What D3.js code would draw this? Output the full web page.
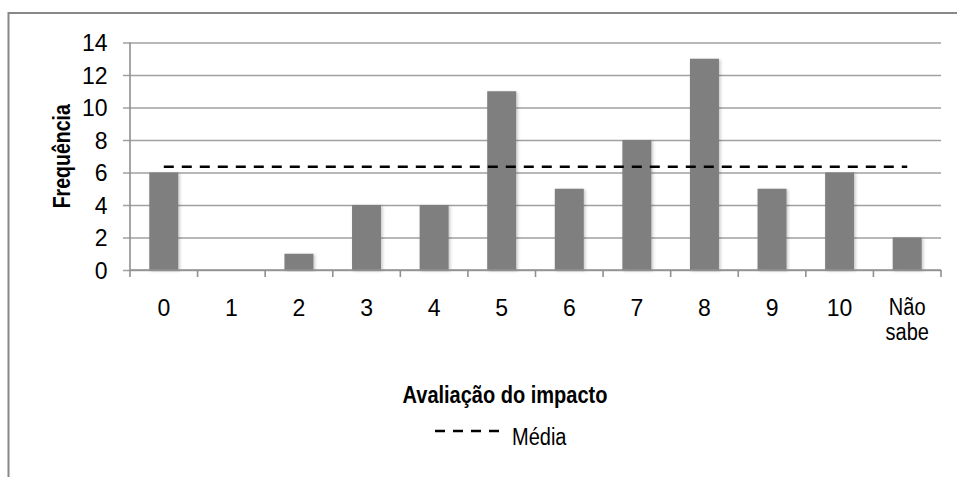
<!DOCTYPE html>
<html>
<head>
<meta charset="utf-8">
<script src="https://cdn.jsdelivr.net/npm/d3@7"></script>
<style>
  html, body { margin: 0; padding: 0; background: #fff; }
  svg { display: block; }
  text { font-family: "Liberation Sans", Arial, sans-serif; fill: #000; }
</style>
</head>
<body>
<svg id="chart" width="957" height="477"></svg>
<script>
// Avaliação do impacto: frequência de cada nota
const categories = ["0", "1", "2", "3", "4", "5", "6", "7", "8", "9", "10", "Não sabe"];
const frequencies = [6, 0, 1, 4, 4, 11, 5, 8, 13, 5, 6, 2];
const meanValue = 6.35;
const yTicks = [0, 2, 4, 6, 8, 10, 12, 14];

const svg = d3.select("#chart");
const W = 957, H = 477;
const plot = { left: 130, right: 941, top: 42.5, bottom: 270 };
const WORD_SQUEEZE = 0.87; // narrow lettering for word labels

// Horizontally condense a text element about an anchor x
function squeeze(sel, cx, k) {
  sel.attr("transform", `translate(${cx},0) scale(${k},1) translate(${-cx},0)`);
}

// Outer frame (extends past the page on the right and bottom)
svg.append("path")
  .attr("d", `M8.5,${H + 5} V13 H${W + 5}`)
  .attr("fill", "none")
  .attr("stroke", "#888")
  .attr("stroke-width", 2);

const x = d3.scaleBand().domain(categories).range([plot.left, plot.right]).paddingInner(0).paddingOuter(0);
const y = d3.scaleLinear().domain([0, 14]).range([plot.bottom, plot.top]);

const defs = svg.append("defs");
const shadow = defs.append("filter").attr("id", "barShadow")
  .attr("x", "-30%").attr("y", "-10%").attr("width", "160%").attr("height", "120%");
shadow.append("feDropShadow").attr("dx", 1.5).attr("dy", 1).attr("stdDeviation", 1.5)
  .attr("flood-color", "#000").attr("flood-opacity", 0.22);

// Horizontal gridlines with tick marks left of the axis
const yAxis = d3.axisLeft(y).tickValues(yTicks).tickSize(plot.right - plot.left + 7).tickPadding(15).tickFormat(d3.format("d"));
const gy = svg.append("g").attr("transform", `translate(${plot.right},0)`).call(yAxis);
gy.select(".domain").remove();
gy.selectAll(".tick line").attr("stroke", "#a0a0a0").attr("stroke-width", 1.6);
gy.selectAll(".tick text").attr("font-size", 23).attr("x", -(plot.right - 107.5)).attr("dy", "0.35em");

// Vertical axis line
svg.append("line")
  .attr("x1", plot.left).attr("x2", plot.left)
  .attr("y1", plot.top).attr("y2", plot.bottom)
  .attr("stroke", "#909090").attr("stroke-width", 1.6);

// Bars
const barWidth = 29;
svg.append("g").selectAll("rect").data(frequencies).join("rect")
  .attr("x", (d, i) => x(categories[i]) + x.bandwidth() / 2 - barWidth / 2)
  .attr("y", d => y(d))
  .attr("width", barWidth)
  .attr("height", d => y(0) - y(d))
  .attr("fill", "#7f7f7f")
  .attr("filter", "url(#barShadow)");

// Horizontal axis with tick marks at category boundaries
svg.append("line")
  .attr("x1", plot.left).attr("x2", plot.right)
  .attr("y1", plot.bottom).attr("y2", plot.bottom)
  .attr("stroke", "#909090").attr("stroke-width", 1.6);
const boundaries = categories.map(c => x(c)).concat([plot.right]);
svg.append("g").selectAll("line").data(boundaries).join("line")
  .attr("x1", d => d).attr("x2", d => d)
  .attr("y1", plot.bottom).attr("y2", plot.bottom + 7)
  .attr("stroke", "#909090").attr("stroke-width", 1.6);

// Category labels (split on spaces into lines)
const xl = svg.append("g").selectAll("text").data(categories).join("text")
  .attr("text-anchor", "middle")
  .attr("font-size", 23)
  .attr("x", d => x(d) + x.bandwidth() / 2)
  .attr("y", 315.5);
xl.each(function(d) {
  const cx = x(d) + x.bandwidth() / 2;
  const words = d.split(" ");
  const t = d3.select(this);
  words.forEach((w, k) => {
    t.append("tspan").attr("x", cx).attr("dy", k === 0 ? 0 : 24.5).text(w);
  });
  if (/[^0-9]/.test(d)) squeeze(t, cx, WORD_SQUEEZE);
});

// Mean line from first to last category centre
const meanLine = d3.line().x(d => x(d) + x.bandwidth() / 2).y(() => y(meanValue));
svg.append("path")
  .datum([categories[0], categories[categories.length - 1]])
  .attr("d", meanLine)
  .attr("fill", "none")
  .attr("stroke", "#000")
  .attr("stroke-width", 2.6)
  .attr("stroke-dasharray", "10,8");

// Axis titles
svg.append("text")
  .attr("transform", `translate(70,${(plot.top + plot.bottom) / 2}) scale(1,${WORD_SQUEEZE - 0.02}) rotate(-90)`)
  .attr("text-anchor", "middle")
  .attr("font-size", 23)
  .attr("font-weight", "bold")
  .text("Frequência");

svg.append("text")
  .attr("x", 505).attr("y", 403)
  .attr("text-anchor", "middle")
  .attr("font-size", 23)
  .attr("font-weight", "bold")
  .call(squeeze, 505, WORD_SQUEEZE)
  .text("Avaliação do impacto");

// Legend
svg.append("line")
  .attr("x1", 435).attr("x2", 500)
  .attr("y1", 431).attr("y2", 431)
  .attr("stroke", "#000").attr("stroke-width", 2.6)
  .attr("stroke-dasharray", "10,8");
svg.append("text")
  .attr("x", 512).attr("y", 445)
  .attr("font-size", 23)
  .call(squeeze, 512, WORD_SQUEEZE)
  .text("Média");
</script>
</body>
</html>
